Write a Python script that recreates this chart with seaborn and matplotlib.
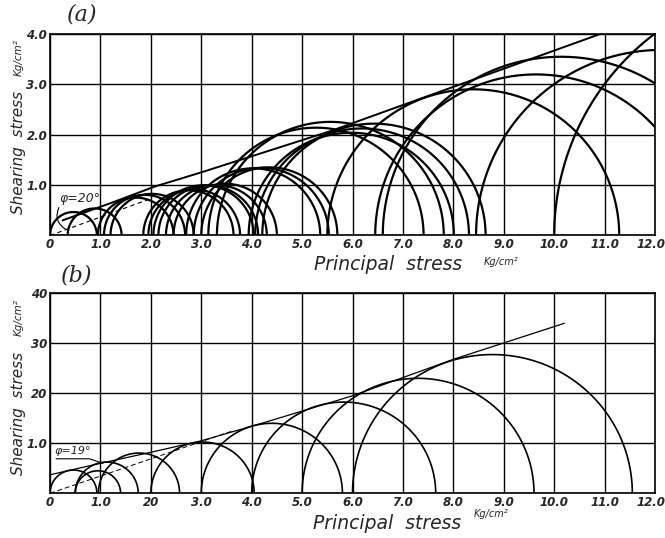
import numpy as np
import pandas as pd
import matplotlib
matplotlib.use("Agg")
import matplotlib.pyplot as plt
from matplotlib.transforms import ScaledTranslation
import seaborn as sns

# (a) Mohr circles: minor / major principal stress (kg/cm2)
a_sigma3 = [0.0, 0.35, 0.95, 1.07, 1.2, 1.85, 1.95, 2.05, 2.15, 2.3, 2.45, 2.7, 2.85, 3.0,
            3.14, 3.31, 3.94, 4.07, 4.21, 5.5, 6.45, 6.6, 8.45, 10.0]
a_sigma1 = [0.93, 1.42, 2.45, 2.68, 2.85, 3.64, 3.77, 4.04, 4.13, 4.3, 4.5, 5.36, 5.53, 5.7,
            7.41, 7.81, 8.01, 8.31, 8.64, 11.29, 12.83, 13.68, 15.8, 20.0]
a_env_sigma = [0.25, 1.2, 2.08, 3.0, 5.57, 10.94]
a_env_tau = [0.3, 0.64, 0.97, 1.25, 2.07, 4.0]
a_phi_sigma = [0.0, 2.0]
a_phi_tau = [0.0, 0.73]

# (b)
b_sigma3 = [0.0, 0.5, 0.5, 0.96, 2.0, 3.0, 4.0, 5.0, 6.0]
b_sigma1 = [0.93, 1.4, 1.75, 2.57, 4.05, 5.8, 7.65, 9.6, 11.55]
b_env_sigma = [0.0, 1.0, 2.0, 3.0, 4.2, 6.0, 8.0, 10.2]
b_env_tau = [0.37, 0.6, 0.82, 1.05, 1.4, 1.95, 2.68, 3.4]
b_phi_sigma = [0.0, 3.6]
b_phi_tau = [0.0, 1.24]

a_xlabels = ["0", "1.0", "2.0", "3.0", "4.0", "5.0", "6.0", "7.0", "8.0", "9.0", "10.0", "11.0", "12.0"]
a_ylabels = ["", "1.0", "2.0", "3.0", "4.0"]
b_xlabels = ["0", "1.0", "20", "3.0", "4.0", "5.0", "6.0", "7.0", "8.0", "9.0", "10.0", "11.0", "12.0"]
b_ylabels = ["", "1.0", "20", "30", "40"]


def circles_frame(s3, s1):
    rows = []
    t = np.linspace(np.pi, 0, 240)
    for i, (lo, hi) in enumerate(zip(s3, s1)):
        c = (lo + hi) / 2
        r = (hi - lo) / 2
        rows.append(pd.DataFrame({"sigma": c + r * np.cos(t), "tau": r * np.sin(t), "id": i}))
    return pd.concat(rows, ignore_index=True)


def setup(ax, xlabels, ylabels):
    ax.set_xlim(0, 12)
    ax.set_ylim(0, 4)
    ax.set_xticks(range(13))
    ax.set_yticks(range(5))
    ax.set_xticklabels(xlabels, style="italic", fontsize=8.5, fontweight="bold")
    ax.set_yticklabels(ylabels, style="italic", fontsize=8.5, fontweight="bold")
    ax.tick_params(length=0, pad=2)
    ax.grid(True, color="k", linewidth=1.0)
    ax.set_axisbelow(True)
    for s in ax.spines.values():
        s.set_color("k")
        s.set_linewidth(1.2)
    ax.set_xlabel("")
    ax.set_ylabel("")
    # last label sits on the right edge
    lab = ax.get_xticklabels()[-1]
    lab.set_transform(lab.get_transform() + ScaledTranslation(-3 / 72, 0, fig.dpi_scale_trans))


def ylabel(ax, y_text, y_unit):
    ax.text(-0.052, y_text, "Shearing  stress", transform=ax.transAxes, rotation=90,
            style="italic", fontsize=11, ha="center", va="center")
    ax.text(-0.052, y_unit, "Kg/cm²", transform=ax.transAxes, rotation=90,
            style="italic", fontsize=7.5, ha="center", va="center")


sns.set_style("white")
plt.rcParams["font.family"] = ["DejaVu Sans"]

fig = plt.figure(figsize=(6.65, 5.38), dpi=100)
ax1 = fig.add_axes([0.0752, 0.5623, 0.9098, 0.3754])
ax2 = fig.add_axes([0.0752, 0.0831, 0.9098, 0.3717])

# panel (a)
dfa = circles_frame(a_sigma3, a_sigma1)
sns.lineplot(data=dfa, x="sigma", y="tau", units="id", estimator=None, sort=False,
             color="k", linewidth=1.6, ax=ax1)
sns.lineplot(x=a_env_sigma, y=a_env_tau, sort=False, color="k", linewidth=1.4, ax=ax1)
sns.lineplot(x=a_phi_sigma, y=a_phi_tau, sort=False, color="k", linewidth=0.8,
             linestyle=(0, (4, 3)), ax=ax1)
setup(ax1, a_xlabels, a_ylabels)
ax1.text(0.6, 0.74, "φ=20°", style="italic", fontsize=9, ha="center", va="center")
ax1.annotate("", xy=(0.35, 0.1), xytext=(0.2, 0.6),
             arrowprops=dict(arrowstyle="-", color="k", lw=0.8, connectionstyle="arc3,rad=0.5"))
ax1.text(0.63, 4.37, "(a)", fontsize=16, style="italic",
         family="DejaVu Serif", ha="center", va="center", clip_on=False)
ax1.text(6.7, -0.58, "Principal  stress", style="italic", fontsize=13.5, ha="center", va="center")
ax1.text(8.95, -0.52, "Kg/cm²", style="italic", fontsize=7, ha="center", va="center")
ylabel(ax1, 0.41, 0.88)

# panel (b)
dfb = circles_frame(b_sigma3, b_sigma1)
sns.lineplot(data=dfb, x="sigma", y="tau", units="id", estimator=None, sort=False,
             color="k", linewidth=1.2, ax=ax2)
sns.lineplot(x=b_env_sigma, y=b_env_tau, sort=False, color="k", linewidth=0.9, ax=ax2)
sns.lineplot(x=b_phi_sigma, y=b_phi_tau, sort=False, color="k", linewidth=0.7,
             linestyle=(0, (5, 3)), ax=ax2)
setup(ax2, b_xlabels, b_ylabels)
ax2.text(0.45, 0.84, "φ=19°", style="italic", fontsize=8, ha="center", va="center")
ax2.plot([0.12, 0.78, 1.05], [0.69, 0.69, 0.6], color="k", linewidth=0.8)
ax2.text(0.54, 4.35, "(b)", fontsize=16, style="italic",
         family="DejaVu Serif", ha="center", va="center", clip_on=False)
ax2.text(6.69, -0.6, "Principal  stress", style="italic", fontsize=13.5, ha="center", va="center")
ax2.text(8.75, -0.42, "Kg/cm²", style="italic", fontsize=7, ha="center", va="center")
ylabel(ax2, 0.4, 0.88)

fig.savefig("out.png", dpi=100)
